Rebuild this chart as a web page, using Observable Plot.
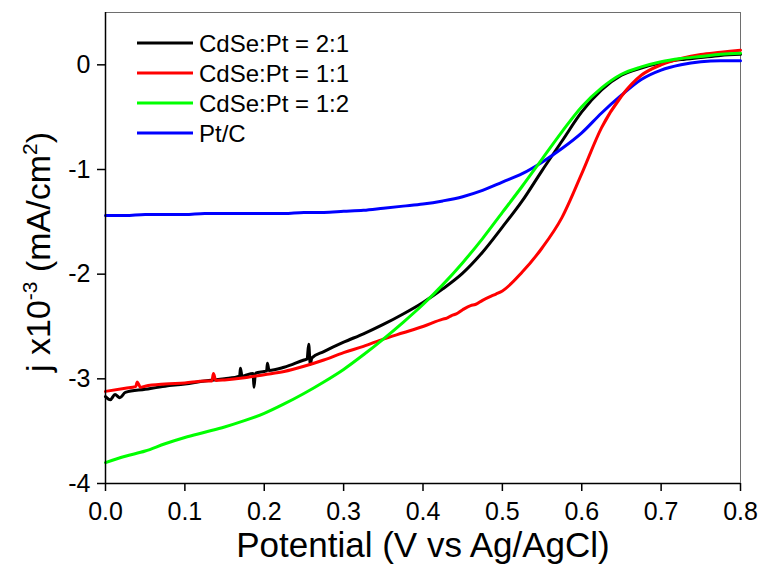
<!DOCTYPE html>
<html><head><meta charset="utf-8">
<script src="https://cdn.jsdelivr.net/npm/d3@7"></script>
<script src="https://cdn.jsdelivr.net/npm/@observablehq/plot@0.6"></script>
<style>
body{margin:0;background:#fff;}
#chart{position:relative;width:763px;height:564px;}
</style>
</head><body><div id="chart"></div>
<script>
// Potential (V vs Ag/AgCl)
const potentials = [0,0.025,0.05,0.075,0.1,0.125,0.15,0.175,0.2,0.225,0.25,0.275,0.3,0.325,0.35,0.375,0.4,0.425,0.45,0.475,0.5,0.525,0.55,0.575,0.6,0.625,0.65,0.675,0.7,0.725,0.75,0.775,0.8];
const seriesNames = ["CdSe:Pt = 2:1","CdSe:Pt = 1:1","CdSe:Pt = 1:2","Pt/C"];
const seriesColors = ["#000000","#ff0000","#00ff00","#0000ff"];
// j x10^-3 (mA/cm^2)
const jBlack = [-3.17,-3.13,-3.10,-3.07,-3.05,-3.02,-3.00,-2.97,-2.93,-2.89,-2.82,-2.74,-2.65,-2.57,-2.48,-2.38,-2.27,-2.14,-1.99,-1.79,-1.55,-1.30,-1.01,-0.73,-0.45,-0.24,-0.10,-0.03,0.02,0.05,0.07,0.09,0.10];
const jRed   = [-3.12,-3.09,-3.07,-3.05,-3.04,-3.02,-3.01,-2.99,-2.96,-2.93,-2.88,-2.82,-2.75,-2.69,-2.62,-2.56,-2.50,-2.43,-2.34,-2.25,-2.16,-1.98,-1.75,-1.46,-1.04,-0.60,-0.30,-0.10,0.00,0.06,0.10,0.12,0.14];
const jGreen = [-3.80,-3.74,-3.69,-3.62,-3.56,-3.51,-3.46,-3.40,-3.33,-3.24,-3.14,-3.03,-2.91,-2.77,-2.62,-2.46,-2.29,-2.10,-1.89,-1.66,-1.41,-1.16,-0.90,-0.64,-0.40,-0.22,-0.09,-0.02,0.03,0.06,0.08,0.10,0.11];
const jBlue  = [-1.44,-1.44,-1.43,-1.43,-1.43,-1.42,-1.42,-1.42,-1.42,-1.42,-1.41,-1.41,-1.40,-1.39,-1.37,-1.35,-1.33,-1.30,-1.26,-1.20,-1.12,-1.04,-0.93,-0.80,-0.65,-0.46,-0.29,-0.14,-0.05,0.00,0.03,0.04,0.04];
const blackNoise = [[0.006,-3.20],[0.012,-3.15],[0.018,-3.18],[0.169,-2.975],[0.170,-2.90],[0.172,-2.975],[0.186,-2.95],[0.187,-3.08],[0.189,-2.945],[0.203,-2.925],[0.204,-2.85],[0.206,-2.92],[0.254,-2.81],[0.256,-2.67],[0.258,-2.86],[0.260,-2.80]];
const redNoise = [[0.038,-3.075],[0.040,-3.03],[0.044,-3.08],[0.134,-3.02],[0.136,-2.95],[0.139,-3.015],[0.430,-2.42],[0.436,-2.395],[0.442,-2.38],[0.460,-2.30],[0.466,-2.29],[0.486,-2.21],[0.492,-2.19]];
const xTicks = [0,0.1,0.2,0.3,0.4,0.5,0.6,0.7,0.8];
const yTicks = [-4,-3,-2,-1,0];

const rows = [];
function addSeries(name, vals, noise) {
  const pts = potentials.map((v, i) => ({v, j: vals[i], name}));
  noise.forEach(([v, j]) => pts.push({v, j, name}));
  pts.sort((a, b) => a.v - b.v);
  rows.push(...pts);
}
// drawing order: black, blue, red, green
addSeries(seriesNames[0], jBlack, blackNoise);
addSeries(seriesNames[3], jBlue, []);
addSeries(seriesNames[1], jRed, redNoise);
addSeries(seriesNames[2], jGreen, []);

const font = "'Liberation Sans', Arial, sans-serif";
const plot = Plot.plot({
  width: 763, height: 564,
  marginLeft: 105, marginRight: 23, marginTop: 12, marginBottom: 81,
  style: {fontFamily: font, fontSize: "25px", color: "#000", background: "#fff", overflow: "visible"},
  x: {domain: [0, 0.8]},
  y: {domain: [-4, 0.5]},
  color: {domain: seriesNames, range: seriesColors},
  marks: [
    Plot.frame({stroke: "#6e6e6e", strokeWidth: 1}),
    Plot.line(rows, {x: "v", y: "j", z: "name", stroke: "name", strokeWidth: 3, curve: "monotone-x"}),
    Plot.ruleX([0], {stroke: "#000", strokeWidth: 1.5}),
    Plot.ruleY([-4], {stroke: "#000", strokeWidth: 1.5}),
    Plot.axisX({ticks: xTicks, tickFormat: d => d.toFixed(1), tickSize: 8, tickPadding: 11, strokeWidth: 1.5, label: null}),
    Plot.axisY({ticks: yTicks, tickFormat: d => String(d), tickSize: 8, tickPadding: 7, strokeWidth: 1.5, label: null})
  ]
});
document.getElementById("chart").appendChild(plot);

const svg = d3.select(plot);
// x title
svg.append("text")
  .attr("x", 423).attr("y", 557)
  .attr("text-anchor", "middle")
  .attr("font-family", font).attr("font-size", 35).attr("fill", "#000")
  .text("Potential (V vs Ag/AgCl)");
// y title
const yt = svg.append("text")
  .attr("transform", "translate(50,252) rotate(-90)")
  .attr("text-anchor", "middle")
  .attr("font-family", font).attr("font-size", 34).attr("fill", "#000");
yt.append("tspan").text("j x10");
yt.append("tspan").attr("dy", -13).attr("font-size", 21).text("-3");
yt.append("tspan").attr("dy", 13).text(" (mA/cm");
yt.append("tspan").attr("dy", -13).attr("font-size", 21).text("2");
yt.append("tspan").attr("dy", 13).text(")");

// legend
const lg = svg.append("g").attr("text-anchor", "start");
seriesNames.forEach((name, i) => {
  const y = 43 + i * 30;
  lg.append("line").attr("x1", 137).attr("x2", 193).attr("y1", y).attr("y2", y)
    .attr("stroke", seriesColors[i]).attr("stroke-width", 3);
  lg.append("text").attr("x", 199).attr("y", y + 8.5).attr("text-anchor", "start")
    .attr("font-family", font).attr("font-size", 24).attr("fill", "#000").text(name);
});
</script>
</body></html>
